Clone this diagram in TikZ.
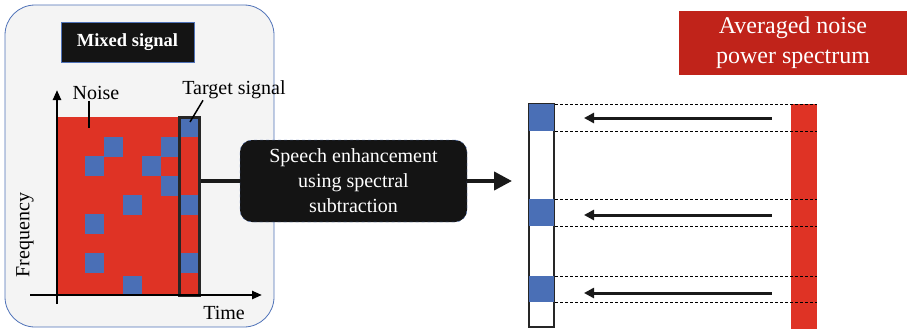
\documentclass[tikz,border=0pt]{standalone}
\usepackage{fontspec}
\setmainfont{Liberation Serif}
\usetikzlibrary{positioning,arrows.meta}

\definecolor{panelgray}{HTML}{F4F4F4}
\definecolor{frameblue}{HTML}{4F72B8}
\definecolor{noisered}{HTML}{DF3325}
\definecolor{cellblue}{HTML}{4A6FB6}
\definecolor{titlered}{HTML}{C0231A}

\begin{document}
\begin{tikzpicture}
		[x=1pt,y=-1pt,
		panel/.style={draw=frameblue,fill=panelgray,rounded corners=30pt,line width=0.8pt},
		blackbox/.style={rectangle,draw=frameblue,fill=black!92,text=white,inner sep=0pt},
		label/.style={inner sep=1pt,font=\fontsize{20}{24}\selectfont},
		axis/.style={line width=2.3pt,-{Triangle[length=10pt,width=8pt]}},
		column/.style={rectangle,draw=black!85,inner sep=0pt,minimum width=20pt,minimum height=178pt},
		flow/.style={line width=4pt,black!90},
		feed/.style={line width=3pt,black!90,-{Triangle[length=10pt,width=10pt]}},
		guide/.style={line width=0.7pt,dash pattern=on 3pt off 2pt}]
		\useasboundingbox (0,0) rectangle (907,329);

		% left panel
		\draw [panel] (5,5) rectangle (274,327);
		\node [blackbox,minimum width=133pt,minimum height=40pt,font=\fontsize{18.5}{22}\selectfont\bfseries] (mixed) at (127.5,42) {Mixed signal};

		% noise map
		\fill [noisered] (58,117) rectangle (199,295);
		\foreach \x/\y in {104/137,161/137,85/156,142/156,161/176,123/195,85/214,85/253,123/276}
			\fill [cellblue] (\x,\y) rectangle ++(19,19.5);
		\foreach \y in {117,195,253}
			\fill [cellblue] (179,\y) rectangle ++(20,19.5);
		\node [column,line width=3pt] (tgt) at (189,206) {};

		\draw [axis] (57,304) -- (57,90);
		\draw [axis] (30,295) -- (262,295);

		\node [label] (noise) at (96,93) {Noise};
		\node [label] (tsig) at (234,90) {Target signal};
		\node [label,rotate=90] (freq) at (25,235) {Frequency};
		\node [label] (time) at (224,313) {Time};
		\coordinate (noisept) at (89,128);
		\coordinate (tgtpt) at (190,122);
		\draw [line width=1.5pt] (noise.south -| noisept) -- (noisept);
		\draw [line width=1.5pt] ([xshift=-31pt]tsig.south) -- (tgtpt);

		% processing
		\node [blackbox,draw=frameblue,dashed,rounded corners=12pt,minimum width=227pt,minimum height=82pt,
			align=center,font=\fontsize{20}{25}\selectfont] (speech) at (353.5,181)
			{Speech enhancement\\using spectral\\subtraction};
		\draw [flow] (tgt.east |- speech) -- (speech.west);

		% output column and averaged noise
		\node [column,line width=2pt,fill=white,minimum width=25pt,minimum height=223pt] (outcol) at (541.5,215.5) {};
		\foreach \y/\h in {104/27,199/27,276/26}
			\fill [cellblue] (529,\y) rectangle ++(25,\h);
		\draw [flow,-{Triangle[length=18pt,width=18pt]}] (speech.east) -- ([xshift=-16pt]outcol.west |- speech);

		\node [rectangle,fill=noisered,inner sep=0pt,minimum width=26pt,minimum height=225pt] (avgbar) at (804,216.5) {};
		\foreach \y in {104,131.5,199,226,276,302}
			\draw [guide] (outcol.east |- 0,\y) -- (avgbar.east |- 0,\y);
		\foreach \y in {118,215,293}
			\draw [feed,shorten <=19pt,shorten >=29pt] (avgbar.west |- 0,\y) -- (outcol.east |- 0,\y);

		\node [rectangle,fill=titlered,text=white,inner sep=0pt,minimum width=228pt,minimum height=64pt,
			align=center,font=\fontsize{24}{30}\selectfont] (avgtitle) at (793,43)
			{Averaged noise\\power spectrum};
	\end{tikzpicture}
\end{document}
